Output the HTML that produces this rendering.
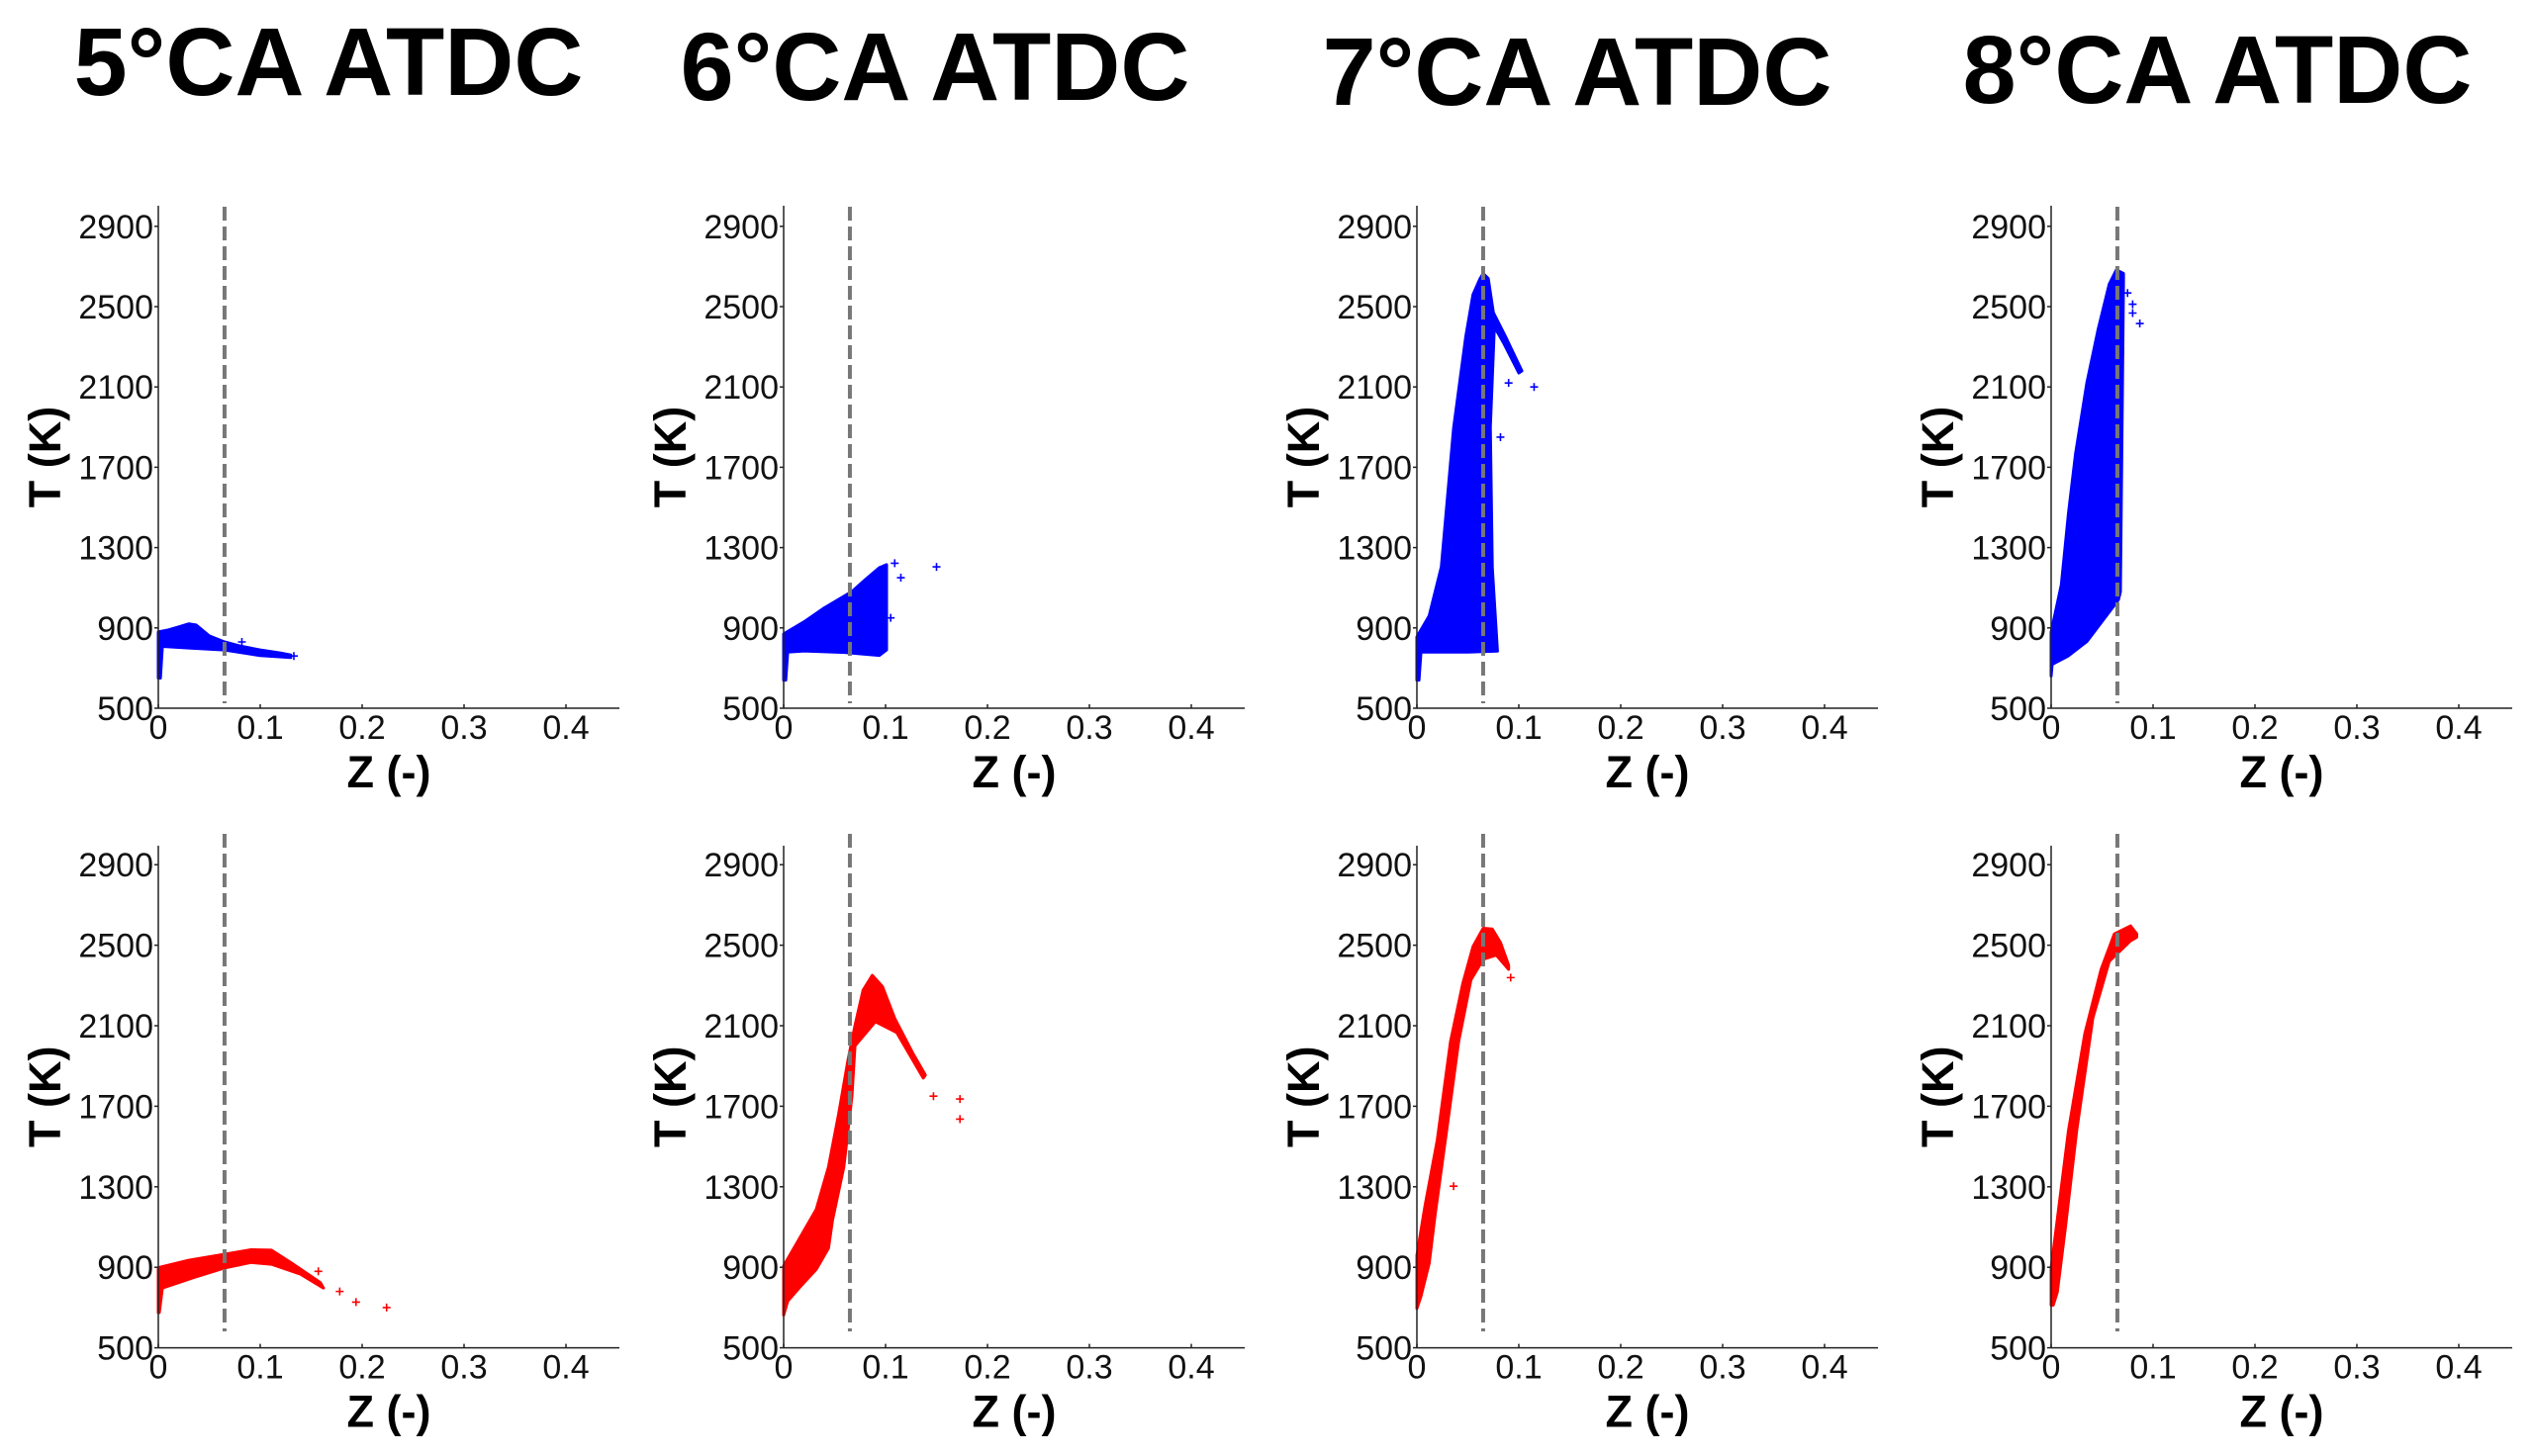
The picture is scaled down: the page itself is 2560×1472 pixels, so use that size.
<!DOCTYPE html>
<html><head><meta charset="utf-8"><style>
html,body{margin:0;padding:0;background:#fff;}
svg{display:block;}
.tick{font-family:"Liberation Sans",sans-serif;font-size:34px;fill:#111;}
.lab{font-family:"Liberation Sans",sans-serif;font-size:45px;font-weight:bold;fill:#000;}
.title{font-family:"Liberation Sans",sans-serif;font-size:97px;font-weight:bold;fill:#000;}
</style></head><body>
<svg id="fig" width="2560" height="1472" viewBox="0 0 2560 1472" xmlns="http://www.w3.org/2000/svg"></svg>
<script>
// ---- data ----
const titles = ["5°CA ATDC","6°CA ATDC","7°CA ATDC","8°CA ATDC"];
const yTicks = [500,900,1300,1700,2100,2500,2900];
const xTicks = [0,0.1,0.2,0.3,0.4];
const xTickLabels = ["0","0.1","0.2","0.3","0.4"];
const stoichZ = 0.065;

// top row (blue)
const p1UpZ=[0,0.01,0.02,0.03,0.037,0.05,0.065,0.08,0.1,0.12,0.13];
const p1UpT=[880,890,905,920,915,860,830,810,790,775,765];
const p1LoZ=[0.13,0.1,0.065,0.03,0.004,0.002,0];
const p1LoT=[752,762,790,800,808,650,650];
const p1OutZ=[0.082,0.133]; const p1OutT=[830,760];

const p2UpZ=[0,0.02,0.04,0.067,0.08,0.094,0.101];
const p2UpT=[870,930,1000,1081,1140,1200,1215];
const p2LoZ=[0.101,0.094,0.06,0.02,0.004,0.002,0];
const p2LoT=[790,763,778,785,780,640,640];
const p2OutZ=[0.109,0.115,0.15,0.105]; const p2OutT=[1222,1150,1204,950];

const p3UpZ=[0,0.012,0.024,0.036,0.048,0.055,0.062,0.065,0.07,0.075,0.087,0.103];
const p3UpT=[855,960,1204,1895,2350,2560,2640,2665,2640,2470,2350,2180];
const p3LoZ=[0.1,0.085,0.076,0.072,0.074,0.079,0.05,0.004,0.002,0];
const p3LoT=[2170,2320,2400,1900,1200,784,780,780,640,640];
const p3OutZ=[0.115,0.082,0.09]; const p3OutT=[2100,1850,2120];

const p4UpZ=[0,0.01,0.017,0.024,0.035,0.046,0.057,0.064,0.071];
const p4UpT=[879,1115,1470,1768,2120,2384,2612,2683,2665];
const p4LoZ=[0.071,0.068,0.066,0.064,0.035,0.017,0.001,0];
const p4LoT=[2620,1080,1040,1026,832,761,718,660];
const p4OutZ=[0.075,0.08,0.08,0.087]; const p4OutT=[2568,2512,2468,2416];

// bottom row (red)
const p5UpZ=[0,0.03,0.066,0.091,0.111,0.131,0.159];
const p5UpT=[898,935,966,987,985,920,824];
const p5LoZ=[0.162,0.139,0.111,0.091,0.066,0.035,0.004,0.001,0];
const p5LoT=[797,867,915,924,898,850,797,675,675];
const p5OutZ=[0.178,0.194,0.224,0.157]; const p5OutT=[780,727,700,880];

const p6UpZ=[0,0.016,0.032,0.044,0.054,0.063,0.07,0.078,0.087,0.097,0.109,0.127,0.139];
const p6UpT=[907,1047,1188,1398,1662,1925,2101,2277,2350,2294,2136,1961,1855];
const p6LoZ=[0.137,0.111,0.09,0.07,0.067,0.059,0.048,0.044,0.032,0.016,0.004,0];
const p6LoT=[1840,2066,2120,2000,1750,1398,1135,995,890,802,732,662];
const p6OutZ=[0.147,0.173,0.173]; const p6OutT=[1750,1736,1636];

const p7UpZ=[0,0.008,0.02,0.033,0.045,0.055,0.065,0.074,0.082,0.09];
const p7UpT=[959,1205,1532,2022,2308,2493,2584,2580,2513,2400];
const p7LoZ=[0.09,0.078,0.065,0.053,0.041,0.029,0.018,0.012,0.004,0];
const p7LoT=[2380,2451,2430,2328,2022,1573,1164,919,756,695];
const p7OutZ=[0.092,0.036]; const p7OutT=[2339,1303];

const p8UpZ=[0,0.005,0.017,0.033,0.049,0.062,0.078,0.084];
const p8UpT=[896,1097,1578,2059,2380,2556,2596,2556];
const p8LoZ=[0.084,0.078,0.057,0.041,0.025,0.014,0.006,0.002,0];
const p8LoT=[2540,2522,2420,2140,1578,1097,776,712,712];
const p8OutZ=[]; const p8OutT=[];

const panels=[
 [p1UpZ,p1UpT,p1LoZ,p1LoT,p1OutZ,p1OutT],[p2UpZ,p2UpT,p2LoZ,p2LoT,p2OutZ,p2OutT],
 [p3UpZ,p3UpT,p3LoZ,p3LoT,p3OutZ,p3OutT],[p4UpZ,p4UpT,p4LoZ,p4LoT,p4OutZ,p4OutT],
 [p5UpZ,p5UpT,p5LoZ,p5LoT,p5OutZ,p5OutT],[p6UpZ,p6UpT,p6LoZ,p6LoT,p6OutZ,p6OutT],
 [p7UpZ,p7UpT,p7LoZ,p7LoT,p7OutZ,p7OutT],[p8UpZ,p8UpT,p8LoZ,p8LoT,p8OutZ,p8OutT]];

// ---- layout ----
const NS="http://www.w3.org/2000/svg";
const svg=document.getElementById('fig');
const colX=[160,792,1432,2073];
const rowBase=[716,1362.6], rowPer400=[81.2,81.4], rowTop=[208,855], dashTop=[209,843], dashBot=[711,1346];
const titleY=[96,101,106,104], titleX=[332,945,1594,2241];
function mk(tag,attrs,parent){const e=document.createElementNS(NS,tag);for(const k in attrs)e.setAttribute(k,attrs[k]);(parent||svg).appendChild(e);return e;}

titles.forEach((t,i)=>{
  const e=mk('text',{x:titleX[i],y:titleY[i],'text-anchor':'middle',class:'title'});
  e.textContent=t;
  
  
});

for(let p=0;p<8;p++){
  const r=Math.floor(p/4), c=p%4, x0=colX[c];
  const sx=z=>x0+z*1030;
  const sy=T=>rowBase[r]-(T-500)*rowPer400[r]/400;
  const g=mk('g',{});
  
  
  const col=r===0?'#0000ff':'#ff0000';
  const [uz,ut,lz,lt,oz,ot]=panels[p];
  // cloud
  let pts=[];
  for(let i=0;i<uz.length;i++)pts.push(sx(uz[i]).toFixed(1)+','+sy(ut[i]).toFixed(1));
  for(let i=0;i<lz.length;i++)pts.push(sx(lz[i]).toFixed(1)+','+sy(lt[i]).toFixed(1));
  const poly=mk('polygon',{points:pts.join(' '),fill:col,stroke:col,'stroke-width':3,'stroke-linejoin':'round'},g);
  
  
  for(let i=0;i<oz.length;i++){
    const X=sx(oz[i]),Y=sy(ot[i]);
    const m=mk('path',{d:`M${X-4},${Y}H${X+4}M${X},${Y-4}V${Y+4}`,stroke:col,'stroke-width':1.6},g);
    
    
  }
  // dashed stoich line
  const d=mk('line',{x1:sx(stoichZ),x2:sx(stoichZ),y1:dashTop[r],y2:dashBot[r],stroke:'#777','stroke-width':4,'stroke-dasharray':'14 6'},g);
  
  
  // axes
  const ya=mk('line',{x1:x0,x2:x0,y1:rowTop[r],y2:rowBase[r],stroke:'#222','stroke-width':1.5},g);
  
  
  const xa=mk('line',{x1:x0,x2:x0+466,y1:rowBase[r],y2:rowBase[r],stroke:'#222','stroke-width':1.5},g);
  
  
  yTicks.forEach(v=>{
    const y=sy(v);
    mk('line',{x1:x0-4,x2:x0,y1:y,y2:y,stroke:'#222','stroke-width':1.5},g);
    const t=mk('text',{x:x0-5,y:y+12,'text-anchor':'end',class:'tick'},g);
    t.textContent=v;
    
    
  });
  xTicks.forEach((v,i)=>{
    const x=sx(v);
    mk('line',{x1:x,x2:x,y1:rowBase[r],y2:rowBase[r]-4,stroke:'#222','stroke-width':1.5},g);
    const t=mk('text',{x:x,y:rowBase[r]+31,'text-anchor':'middle',class:'tick'},g);
    t.textContent=xTickLabels[i];
    
    
  });
  const yl=mk('text',{x:0,y:0,'text-anchor':'middle',class:'lab',transform:`translate(${x0-99},${(rowTop[r]+rowBase[r])/2}) rotate(-90)`},g);
  yl.textContent='T (K)';
  
  
  const xl=mk('text',{x:x0+233,y:rowBase[r]+80,'text-anchor':'middle',class:'lab'},g);
  xl.textContent='Z (-)';
  
  
}
</script>
</body></html>
